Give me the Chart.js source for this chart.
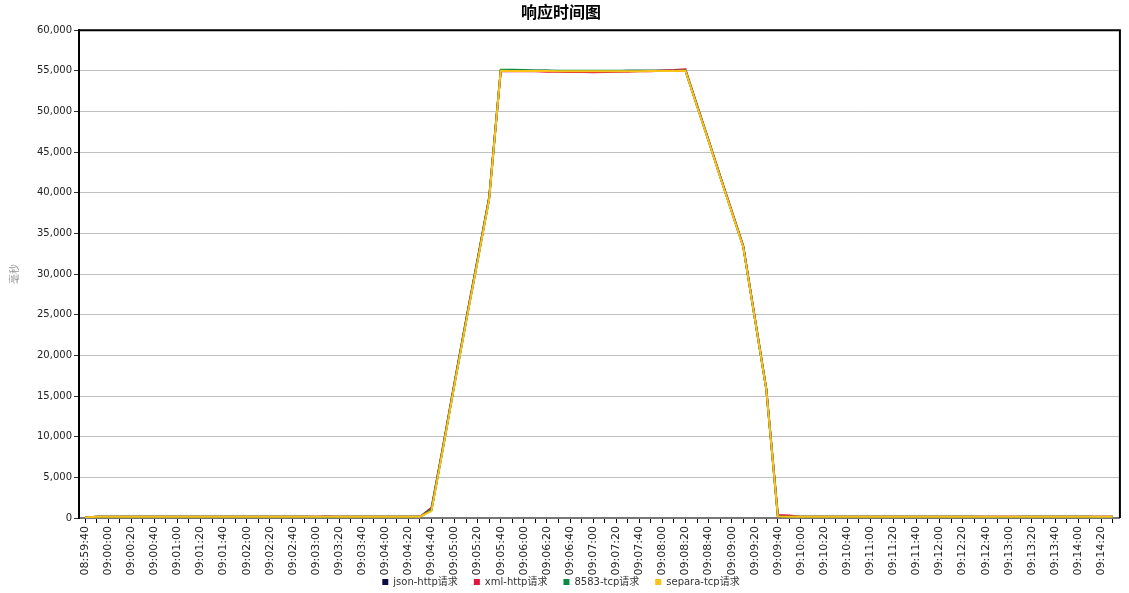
<!DOCTYPE html>
<html>
<head>
<meta charset="utf-8">
<title>响应时间图</title>
<script src="https://cdn.jsdelivr.net/npm/chart.js@4.4.1/dist/chart.umd.min.js"></script>
<style>
  html, body { margin: 0; padding: 0; background: #fff; }
  #wrap { width: 1129px; height: 593px; }
</style>
</head>
<body>
<div id="wrap"><canvas id="chart"></canvas></div>
<script>
// tick labels, one per 10 s sample
const times = [
  '08:59:40','08:59:50','09:00:00','09:00:10','09:00:20','09:00:30','09:00:40','09:00:50',
  '09:01:00','09:01:10','09:01:20','09:01:30','09:01:40','09:01:50','09:02:00','09:02:10',
  '09:02:20','09:02:30','09:02:40','09:02:50','09:03:00','09:03:10','09:03:20','09:03:30',
  '09:03:40','09:03:50','09:04:00','09:04:10','09:04:20','09:04:30','09:04:40','09:04:50',
  '09:05:00','09:05:10','09:05:20','09:05:30','09:05:40','09:05:50','09:06:00','09:06:10',
  '09:06:20','09:06:30','09:06:40','09:06:50','09:07:00','09:07:10','09:07:20','09:07:30',
  '09:07:40','09:07:50','09:08:00','09:08:10','09:08:20','09:08:30','09:08:40','09:08:50',
  '09:09:00','09:09:10','09:09:20','09:09:30','09:09:40','09:09:50','09:10:00','09:10:10',
  '09:10:20','09:10:30','09:10:40','09:10:50','09:11:00','09:11:10','09:11:20','09:11:30',
  '09:11:40','09:11:50','09:12:00','09:12:10','09:12:20','09:12:30','09:12:40','09:12:50',
  '09:13:00','09:13:10','09:13:20','09:13:30','09:13:40','09:13:50','09:14:00','09:14:10',
  '09:14:20','09:14:30'
];

const seriesNames = ['json-http请求', 'xml-http请求', '8583-tcp请求', 'separa-tcp请求'];
const seriesColors = ['#0c0c44', '#e0163c', '#0a8a42', '#fcc21a'];

// response time in ms
const jsonHttp = [
  40, 150, 150, 155, 150, 150, 150, 155, 150, 150,
  150, 150, 155, 150, 150, 150, 150, 150, 155, 150,
  150, 170, 150, 150, 150, 150, 155, 150, 150, 150,
  950, 8600, 16500, 24200, 31700, 39300, 55000, 55000, 55000, 55000,
  55000, 54950, 54950, 54950, 54950, 54950, 54950, 55000, 55000, 55000,
  55000, 55000, 55000, 50700, 46400, 42000, 37700, 33400, 24600, 15800,
  190, 160, 150, 150, 150, 150, 155, 150, 150, 150,
  150, 150, 150, 150, 155, 150, 150, 150, 150, 150,
  150, 150, 150, 150, 150, 155, 150, 150, 150, 150
];
const xmlHttp = [
  60, 155, 155, 155, 155, 160, 155, 155, 155, 155,
  155, 155, 155, 160, 155, 155, 155, 155, 155, 155,
  155, 155, 155, 155, 160, 155, 155, 155, 155, 160,
  1250, 8800, 16700, 24400, 31900, 39500, 54950, 54950, 54950, 54950,
  54900, 54880, 54850, 54850, 54820, 54850, 54880, 54900, 54950, 54950,
  55050, 55100, 55200, 50800, 46500, 42100, 37800, 33500, 24700, 15900,
  380, 300, 160, 155, 155, 155, 155, 155, 160, 155,
  155, 155, 155, 155, 155, 155, 155, 160, 155, 155,
  155, 155, 155, 155, 155, 155, 155, 155, 155, 155
];
const tcp8583 = [
  50, 150, 150, 150, 150, 150, 150, 150, 150, 150,
  150, 150, 150, 150, 150, 150, 150, 150, 150, 150,
  120, 40, 140, 150, 150, 150, 150, 150, 150, 150,
  1050, 8700, 16600, 24300, 31800, 39400, 55150, 55150, 55100, 55050,
  55050, 55000, 55000, 55000, 55000, 55000, 55000, 55000, 55000, 55000,
  55000, 55000, 55050, 50700, 46400, 42000, 37700, 33400, 24600, 15800,
  180, 160, 150, 150, 150, 150, 150, 150, 150, 150,
  150, 150, 150, 150, 150, 150, 150, 150, 120, 50,
  60, 140, 150, 150, 150, 150, 150, 140, 50, 140
];
const separaTcp = [
  60, 165, 165, 165, 165, 165, 165, 165, 165, 165,
  165, 165, 165, 165, 165, 165, 165, 165, 165, 165,
  165, 165, 165, 165, 165, 165, 165, 165, 165, 165,
  850, 8500, 16400, 24100, 31600, 39200, 55000, 54980, 54980, 54980,
  54980, 54960, 54960, 54960, 54960, 54960, 54960, 54960, 54960, 54980,
  54980, 54980, 55000, 50650, 46350, 41950, 37650, 33350, 24550, 15750,
  170, 165, 165, 165, 165, 165, 165, 165, 165, 165,
  165, 165, 165, 165, 165, 165, 165, 165, 165, 165,
  165, 165, 165, 165, 165, 165, 165, 165, 165, 165
];

const yTicksMax = 60000;
const yTicksStep = 5000;

const allSeries = [jsonHttp, xmlHttp, tcp8583, separaTcp];

const datasets = allSeries.map((values, k) => ({
  label: seriesNames[k],
  data: values.map((v, i) => ({ x: i, y: v })),
  borderColor: seriesColors[k],
  backgroundColor: seriesColors[k],
  borderWidth: 2,
  pointRadius: 0,
  tension: 0,
  order: allSeries.length - 1 - k   // last series painted on top
}));

// black frame round the plot
const frame = {
  id: 'frame',
  afterDraw(chart) {
    const { ctx, chartArea: a } = chart;
    ctx.save();
    ctx.strokeStyle = '#000';
    ctx.lineWidth = 2;
    ctx.beginPath();
    ctx.moveTo(a.left, a.top);
    ctx.lineTo(a.right, a.top);
    ctx.lineTo(a.right, a.bottom);
    ctx.stroke();
    ctx.restore();
  }
};

// legend row sits just under the rotated time labels
const legendShift = {
  id: 'legendShift',
  afterLayout(chart) {
    const lg = chart.legend;
    lg.top = 561;
    lg.bottom = chart.height;
    lg.height = lg.bottom - lg.top;
  }
};

const font = 'DejaVu Sans, "Noto Sans CJK SC", sans-serif';

new Chart(document.getElementById('chart'), {
  type: 'line',
  data: { datasets },
  plugins: [frame, legendShift],
  options: {
    responsive: true,
    maintainAspectRatio: false,
    animation: false,
    layout: { padding: { left: 0, right: 7, top: 0, bottom: 0 } },
    plugins: {
      title: {
        display: true,
        text: '响应时间图',
        color: '#000',
        font: { family: '"Noto Sans CJK SC", sans-serif', size: 16, weight: 'bold' },
        padding: { top: 2, bottom: 9 }
      },
      legend: {
        position: 'bottom',
        maxHeight: 17,
        labels: {
          boxWidth: 6,
          boxHeight: 6,
          padding: 16,
          color: '#333',
          font: { family: font, size: 10 },
          sort: (a, b) => a.datasetIndex - b.datasetIndex,
          generateLabels: chart =>
            Chart.defaults.plugins.legend.labels.generateLabels(chart).map(l => ({ ...l, lineWidth: 0 }))
        }
      },
      tooltip: { enabled: false }
    },
    scales: {
      x: {
        type: 'linear',
        min: -0.52,
        max: 89.62,
        afterBuildTicks: s => { s.ticks = times.map((t, i) => ({ value: i })); },
        afterFit: s => { s.height = 58; },
        ticks: {
          autoSkip: false,
          minRotation: 90,
          maxRotation: 90,
          padding: 3,
          color: '#222',
          font: { family: font, size: 11 },
          callback: v => (v % 2 === 0 ? times[v] : '')
        },
        grid: { drawOnChartArea: false, tickLength: 5, tickColor: '#000' },
        border: { color: '#777', width: 2 }
      },
      y: {
        min: 0,
        max: yTicksMax,
        afterFit: s => { s.width = 79; },
        ticks: {
          stepSize: yTicksStep,
          padding: 2,
          color: '#222',
          font: { family: font, size: 10 },
          callback: v => v.toLocaleString('en-US')
        },
        grid: { color: '#c0c0c0', lineWidth: 1, tickLength: 5, tickColor: '#333' },
        border: { color: '#000', width: 2 },
        title: {
          display: true,
          text: '毫秒',
          color: '#999',
          font: { family: '"Noto Sans CJK SC", sans-serif', size: 10 },
          padding: { top: 8, bottom: 0 }
        }
      }
    }
  }
});
</script>
</body>
</html>
